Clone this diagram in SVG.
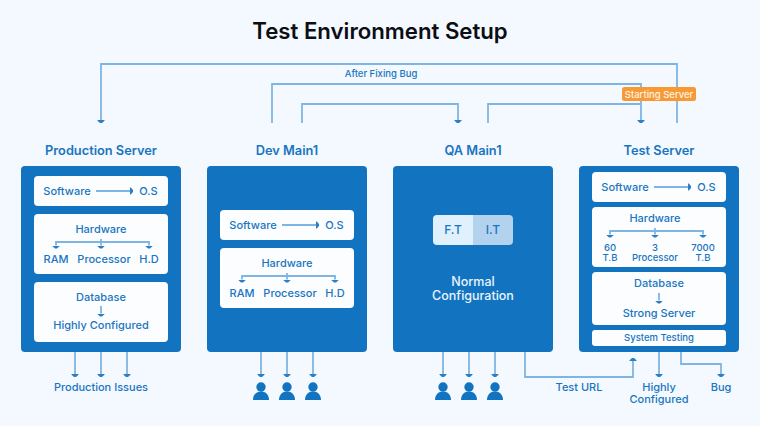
<svg xmlns="http://www.w3.org/2000/svg" width="760" height="426" viewBox="0 0 760 426">
<style>
text{font-family:"Inter","Noto Sans",sans-serif;font-weight:500;fill:#1a75bf;text-anchor:middle}
.title{font-size:22.200px;font-weight:600;fill:#0d0d14}
.head{font-size:12.800px;font-weight:600}
.lbl{font-size:11px}
.sm{font-size:9.500px}
.pan{fill:#1274c0}
.box{fill:#fbfdff}
.wire{fill:none;stroke:#7fb5e3;stroke-width:1.800}
.end{marker-end:url(#tip)}
.person{fill:#1274c0}
</style>
<defs>
<marker id="tip" markerUnits="userSpaceOnUse" markerWidth="8" markerHeight="8" refX="0" refY="4" orient="auto"><path d="M0,0.500 H0.800 L3,3 V5 L0.800,7.500 H0 Z" fill="#2a80c8"/></marker>
<g id="user"><circle cx="0" cy="387" r="4.700"/><path d="M-8,400 C-8,394 -4,391.500 0,391.500 C4,391.500 8,394 8,400 Z"/></g>
</defs>
<rect width="760" height="426" fill="#f3f9ff"/>
<text class="title" x="380" y="39">Test Environment Setup</text>

<g id="production-server">
<text class="head" x="101" y="155">Production Server</text>
<rect class="pan" x="21" y="166" width="160" height="186" rx="4"/>
<rect class="box" x="34" y="176" width="134" height="30" rx="4"/>
<rect class="box" x="34" y="214" width="134" height="60" rx="4"/>
<rect class="box" x="34" y="282" width="134" height="60" rx="4"/>
<text class="lbl" x="67" y="195">Software</text><text class="lbl" x="148.500" y="195">O.S</text>
<text class="lbl" x="101" y="233">Hardware</text>
<text class="lbl" x="56" y="263">RAM</text><text class="lbl" x="104" y="263">Processor</text><text class="lbl" x="149" y="263">H.D</text>
<text class="lbl" x="101" y="301">Database</text><text class="lbl" x="101" y="329">Highly Configured</text>
<text class="lbl" x="101" y="391">Production Issues</text>
</g>

<g id="dev-main">
<text class="head" x="287" y="155">Dev Main1</text>
<rect class="pan" x="207" y="166" width="160" height="186" rx="4"/>
<rect class="box" x="220" y="210" width="134" height="30" rx="4"/>
<rect class="box" x="220" y="248" width="134" height="60" rx="4"/>
<text class="lbl" x="253" y="229">Software</text><text class="lbl" x="334.500" y="229">O.S</text>
<text class="lbl" x="287" y="267">Hardware</text>
<text class="lbl" x="242" y="297">RAM</text><text class="lbl" x="290" y="297">Processor</text><text class="lbl" x="335" y="297">H.D</text>
<g class="person"><use href="#user" x="261"/><use href="#user" x="287"/><use href="#user" x="313"/></g>
</g>

<g id="qa-main">
<text class="head" x="473" y="155">QA Main1</text>
<rect class="pan" x="393" y="166" width="160" height="186" rx="4"/>
<path d="M473,215 H437 a4,4 0 0 0 -4,4 V241 a4,4 0 0 0 4,4 H473 Z" fill="#e0f0fd"/>
<path d="M473,215 H509 a4,4 0 0 1 4,4 V241 a4,4 0 0 1 -4,4 H473 Z" fill="#b2d2ee"/>
<text class="lbl" x="453" y="234" style="font-size:12px">F.T</text><text class="lbl" x="493" y="234" style="font-size:12px">I.T</text>
<text x="473" y="286" style="font-size:12.500px;fill:#eaf4fd">Normal</text>
<text x="473" y="300" style="font-size:12.500px;fill:#eaf4fd">Configuration</text>
<g class="person"><use href="#user" x="443"/><use href="#user" x="469"/><use href="#user" x="495"/></g>
</g>

<g id="test-server">
<text class="head" x="659" y="155">Test Server</text>
<rect class="pan" x="579" y="166" width="160" height="186" rx="4"/>
<rect class="box" x="592" y="172" width="134" height="30" rx="4"/>
<rect class="box" x="592" y="207" width="134" height="60" rx="4"/>
<rect class="box" x="592" y="272" width="134" height="53" rx="4"/>
<rect class="box" x="592" y="330" width="134" height="16" rx="3"/>
<text class="lbl" x="625" y="191">Software</text><text class="lbl" x="706.500" y="191">O.S</text>
<text class="lbl" x="655" y="222">Hardware</text>
<text class="sm" x="610" y="251">60</text><text class="sm" x="610" y="261">T.B</text>
<text class="sm" x="655" y="251">3</text><text class="sm" x="655" y="261">Processor</text>
<text class="sm" x="703" y="251">7000</text><text class="sm" x="703" y="261">T.B</text>
<text class="lbl" x="659" y="287">Database</text><text class="lbl" x="659" y="317">Strong Server</text>
<text class="sm" x="659" y="341">System Testing</text>
<text class="lbl" x="579" y="391">Test URL</text>
<text class="lbl" x="659" y="391">Highly</text><text class="lbl" x="659" y="403">Configured</text>
<text class="lbl" x="721" y="391">Bug</text>
</g>

<g id="connectors">
<path class="wire end" d="M677,123 V64 H101 V120"/>
<path class="wire end" d="M272,123 V84 H641 V120"/>
<path class="wire end" d="M302,123 V104 H458 V120"/>
<path class="wire" d="M488,123 V104 H641"/>
<path class="wire end" d="M75,352 V374"/><path class="wire end" d="M101,352 V374"/><path class="wire end" d="M127,352 V374"/>
<path class="wire end" d="M261,352 V374"/><path class="wire end" d="M287,352 V374"/><path class="wire end" d="M313,352 V374"/>
<path class="wire end" d="M443,352 V374"/><path class="wire end" d="M469,352 V374"/><path class="wire end" d="M495,352 V374"/>
<path class="wire end" d="M525,352 V377 H633 V361"/>
<path class="wire end" d="M659,352 V374"/>
<path class="wire end" d="M681,352 V364 H721 V374"/>
<path class="wire end" d="M96,191 H130"/><path class="wire end" d="M282,225 H316"/><path class="wire end" d="M654,187 H688"/>
<path class="wire end" d="M56,242 V245.500"/><path class="wire end" d="M149,242 V245.500"/><path class="wire end" d="M101,239 V245.500"/><path class="wire" d="M55.100,242 H149.900"/>
<path class="wire end" d="M242,276 V279.500"/><path class="wire end" d="M335,276 V279.500"/><path class="wire end" d="M287,273 V279.500"/><path class="wire" d="M241.100,276 H335.900"/>
<path class="wire end" d="M610,231 V234.500"/><path class="wire end" d="M703,231 V234.500"/><path class="wire end" d="M655,228 V234.500"/><path class="wire" d="M609.100,231 H703.900"/>
<path class="wire end" d="M101,306 V313.500"/><path class="wire end" d="M659,293 V300.500"/>
</g>

<g id="starting-server">
<rect x="622" y="87" width="74" height="14" rx="2.500" fill="#f79a34"/>
<text x="659" y="97.500" style="font-size:9.500px;fill:#fdf3e6">Starting Server</text>
</g>
<text class="sm" x="381" y="77">After Fixing Bug</text>
</svg>
